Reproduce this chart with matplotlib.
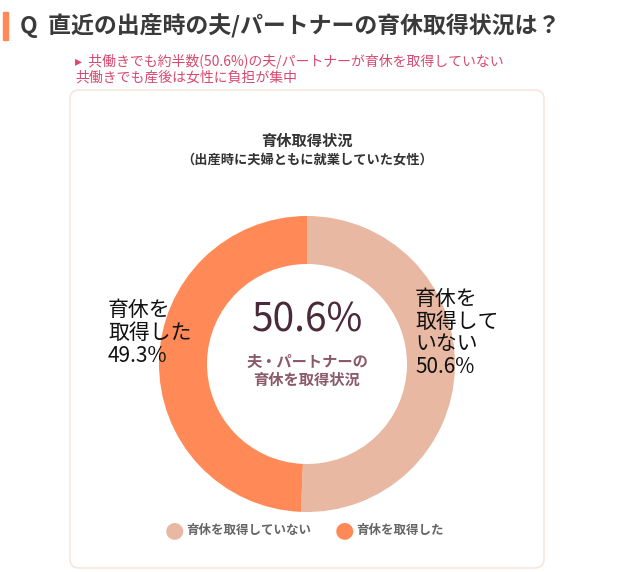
import matplotlib
matplotlib.use("Agg")
import matplotlib.pyplot as plt
from matplotlib.patches import FancyBboxPatch, Rectangle

plt.rcParams['font.family'] = ['Noto Sans CJK JP', 'DejaVu Sans']

labels = ["育休を取得していない", "育休を取得した"]
values = [50.6, 49.3]
colors = ["#E8B8A2", "#FF8A58"]
slice_texts = ["育休を\n取得して\nいない\n50.6%", "育休を\n取得した\n49.3%"]

W, H = 640, 572
fig = plt.figure(figsize=(6.4, 5.72), dpi=100)
fig.patch.set_facecolor("white")

def fx(x): return x / W
def fy(y): return 1 - y / H

fig.patches.append(Rectangle((fx(3), fy(40)), fx(5), 28 / H, transform=fig.transFigure,
                             color="#FF8A58", zorder=-1))
fig.text(fx(20), fy(26), "Q  直近の出産時の夫/パートナーの育休取得状況は？", fontsize=16.5,
         fontweight="bold", color="#3a3a3a", va="center")
fig.text(fx(75), fy(61), "▸  共働きでも約半数(50.6%)の夫/パートナーが育休を取得していない",
         fontsize=10, color="#D9486F", style="italic", va="center")
fig.text(fx(75), fy(77), "共働きでも産後は女性に負担が集中", fontsize=10, color="#D9486F",
         style="italic", va="center")

fig.patches.append(FancyBboxPatch((fx(70), fy(568)), fx(474), (568 - 90) / H,
                                  boxstyle="round,pad=0,rounding_size=0.015",
                                  transform=fig.transFigure, facecolor="white",
                                  edgecolor="#F8E6DE", lw=1.2, zorder=-2))

fig.text(fx(307), fy(141), "育休取得状況", fontsize=11, fontweight="bold", color="#333333",
         ha="center", va="center")
fig.text(fx(307), fy(160), "（出産時に夫婦ともに就業していた女性）", fontsize=9.5, fontweight="bold",
         color="#333333", ha="center", va="center")

cx, cy, r = 307, 364, 148
ax = fig.add_axes([fx(cx - r), fy(cy + r), 2 * r / W, 2 * r / H], zorder=1)
ax.patch.set_alpha(0)
ax.pie(values, colors=colors, startangle=90, counterclock=False,
       wedgeprops=dict(width=48 / 148, edgecolor="white", linewidth=0))
ax.set_aspect("auto")
ax.set_xlim(-1, 1); ax.set_ylim(-1, 1)
ax.axis("off")

fig.text(fx(307), fy(320), "50.6%", fontsize=28, color="#4a2a3a", ha="center", va="center", zorder=3)
fig.text(fx(307), fy(371), "夫・パートナーの\n育休を取得状況", fontsize=11, fontweight="bold",
         color="#8a5a6a", ha="center", va="center", linespacing=1.2, zorder=3)

fig.text(fx(415), fy(333), slice_texts[0], fontsize=15, color="#111111", ha="left",
         va="center", linespacing=1.05, zorder=3)
fig.text(fx(108), fy(333), slice_texts[1], fontsize=15, color="#111111", ha="left",
         va="center", linespacing=1.05, zorder=3)

lx = [174, 344]
for x, lab, c in zip(lx, labels, colors):
    fig.text(fx(x), fy(530), "●", fontsize=16, color=c, ha="center", va="center",
             family="DejaVu Sans")
    fig.text(fx(x + 12), fy(530), lab, fontsize=9, fontweight="bold", color="#666666",
             ha="left", va="center")

fig.savefig("out.png", dpi=100)
